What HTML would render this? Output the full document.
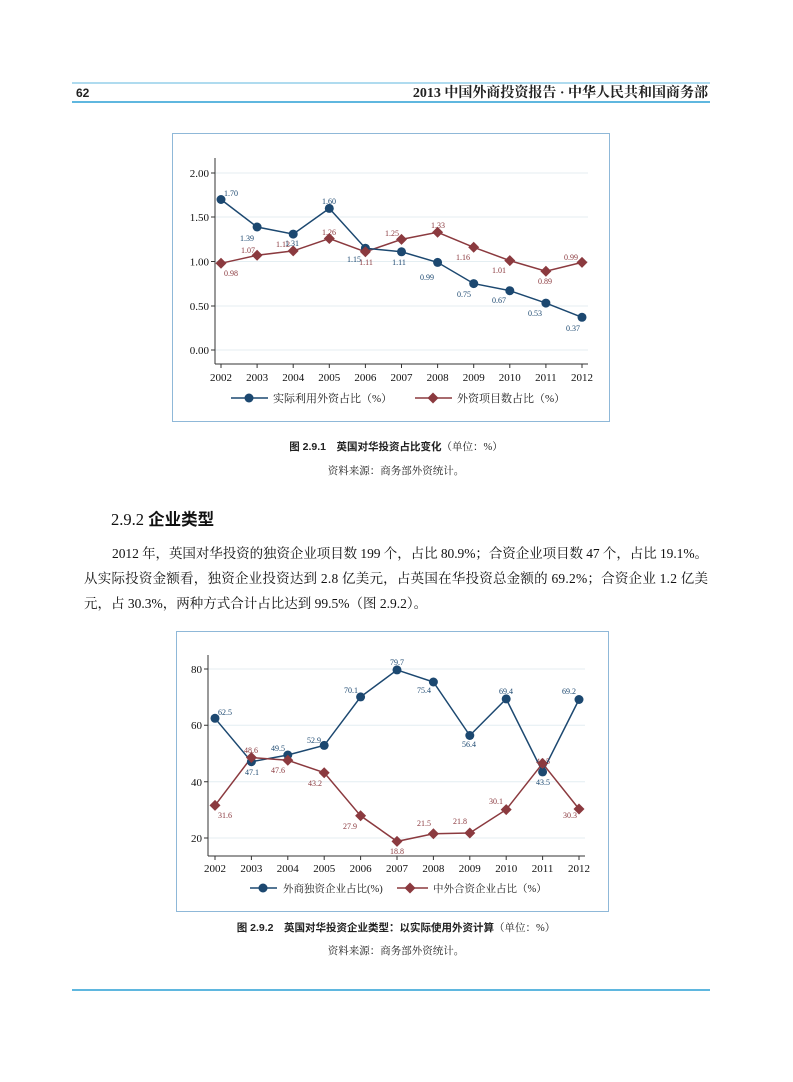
<!DOCTYPE html>
<html><head><meta charset="utf-8"><style>
body{margin:0;background:#fff;}
svg text{font-family:"Liberation Serif","Noto Serif CJK SC",serif;}
.s{font-family:"Liberation Sans","Noto Sans CJK SC",sans-serif;}
</style></head><body>
<svg width="793" height="1077" viewBox="0 0 793 1077" xmlns="http://www.w3.org/2000/svg">
<line x1="72" y1="83" x2="710" y2="83" stroke="#5fb7df" stroke-width="1"/>
<line x1="72" y1="102" x2="710" y2="102" stroke="#5fb7df" stroke-width="2"/>
<text x="76" y="97" font-size="12" font-weight="bold" class="s" fill="#222">62</text>
<text x="708" y="97" font-size="14" font-weight="bold" text-anchor="end" fill="#222" font-family="Liberation Serif,Noto Sans CJK SC,sans-serif">2013 中国外商投资报告 · 中华人民共和国商务部</text>

<!-- Chart 1 -->
<rect x="172.5" y="133.5" width="437" height="288" fill="#fff" stroke="#8fb8d8"/>
<g stroke="#e4eef2" stroke-width="1">
<line x1="215" y1="173" x2="588" y2="173"/><line x1="215" y1="217" x2="588" y2="217"/><line x1="215" y1="261.5" x2="588" y2="261.5"/><line x1="215" y1="306" x2="588" y2="306"/><line x1="215" y1="350" x2="588" y2="350"/>
</g>
<g stroke="#333" stroke-width="1" fill="none">
<line x1="215" y1="158" x2="215" y2="364"/><line x1="215" y1="364" x2="588" y2="364"/>
<path d="M211 173h4M211 217h4M211 261.5h4M211 306h4M211 350h4"/>
<path d="M221 364v4M257.1 364v4M293.2 364v4M329.3 364v4M365.4 364v4M401.5 364v4M437.6 364v4M473.7 364v4M509.8 364v4M545.9 364v4M582 364v4"/>
</g>
<g font-size="11" fill="#111" text-anchor="end">
<text x="209" y="177">2.00</text><text x="209" y="221">1.50</text><text x="209" y="265.5">1.00</text><text x="209" y="310">0.50</text><text x="209" y="354">0.00</text>
</g>
<g font-size="11" fill="#111" text-anchor="middle">
<text x="221" y="381">2002</text><text x="257.1" y="381">2003</text><text x="293.2" y="381">2004</text><text x="329.3" y="381">2005</text><text x="365.4" y="381">2006</text><text x="401.5" y="381">2007</text><text x="437.6" y="381">2008</text><text x="473.7" y="381">2009</text><text x="509.8" y="381">2010</text><text x="545.9" y="381">2011</text><text x="582" y="381">2012</text>
</g>
<polyline fill="none" stroke="#8b3a3f" stroke-width="1.5" points="221,263.3 257.1,255.3 293.2,250.9 329.3,238.5 365.4,251.8 401.5,239.4 437.6,232.3 473.7,247.3 509.8,260.6 545.9,271.2 582,262.4"/>
<polyline fill="none" stroke="#1c4870" stroke-width="1.5" points="221,199.5 257.1,227 293.2,234.1 329.3,208.4 365.4,248.2 401.5,251.8 437.6,262.4 473.7,283.6 509.8,290.7 545.9,303.1 582,317.3"/>
<g fill="#1c4870">
<circle cx="221" cy="199.5" r="4.5"/><circle cx="257.1" cy="227" r="4.5"/><circle cx="293.2" cy="234.1" r="4.5"/><circle cx="329.3" cy="208.4" r="4.5"/><circle cx="365.4" cy="248.2" r="4.5"/><circle cx="401.5" cy="251.8" r="4.5"/><circle cx="437.6" cy="262.4" r="4.5"/><circle cx="473.7" cy="283.6" r="4.5"/><circle cx="509.8" cy="290.7" r="4.5"/><circle cx="545.9" cy="303.1" r="4.5"/><circle cx="582" cy="317.3" r="4.5"/>
</g>
<g fill="#8b3a3f">
<path d="M221 257.8l5.5 5.5-5.5 5.5-5.5-5.5z"/><path d="M257.1 249.8l5.5 5.5-5.5 5.5-5.5-5.5z"/><path d="M293.2 245.4l5.5 5.5-5.5 5.5-5.5-5.5z"/><path d="M329.3 233l5.5 5.5-5.5 5.5-5.5-5.5z"/><path d="M365.4 246.3l5.5 5.5-5.5 5.5-5.5-5.5z"/><path d="M401.5 233.9l5.5 5.5-5.5 5.5-5.5-5.5z"/><path d="M437.6 226.8l5.5 5.5-5.5 5.5-5.5-5.5z"/><path d="M473.7 241.8l5.5 5.5-5.5 5.5-5.5-5.5z"/><path d="M509.8 255.1l5.5 5.5-5.5 5.5-5.5-5.5z"/><path d="M545.9 265.7l5.5 5.5-5.5 5.5-5.5-5.5z"/><path d="M582 256.9l5.5 5.5-5.5 5.5-5.5-5.5z"/>
</g>
<g font-size="8" fill="#1c4870" text-anchor="middle">
<text x="231" y="196">1.70</text><text x="247" y="241">1.39</text><text x="292" y="246">1.31</text><text x="329" y="204">1.60</text><text x="354" y="262">1.15</text><text x="399" y="265">1.11</text><text x="427" y="280">0.99</text><text x="464" y="297">0.75</text><text x="499" y="303">0.67</text><text x="535" y="316">0.53</text><text x="573" y="331">0.37</text>
</g>
<g font-size="8" fill="#8b3a3f" text-anchor="middle">
<text x="231" y="276">0.98</text><text x="248" y="253">1.07</text><text x="283" y="247">1.12</text><text x="329" y="235">1.26</text><text x="366" y="265">1.11</text><text x="392" y="236">1.25</text><text x="438" y="228">1.33</text><text x="463" y="260">1.16</text><text x="499" y="273">1.01</text><text x="545" y="284">0.89</text><text x="571" y="260">0.99</text>
</g>
<line x1="231" y1="398" x2="268" y2="398" stroke="#1c4870" stroke-width="1.5"/><circle cx="249" cy="398" r="4.5" fill="#1c4870"/>
<text x="273" y="402" font-size="11" fill="#222">实际利用外资占比（%）</text>
<line x1="415" y1="398" x2="452" y2="398" stroke="#8b3a3f" stroke-width="1.5"/><path d="M433 392.5l5.5 5.5-5.5 5.5-5.5-5.5z" fill="#8b3a3f"/>
<text x="457" y="402" font-size="11" fill="#222">外资项目数占比（%）</text>

<text x="396" y="450" font-size="10.5" text-anchor="middle" fill="#222"><tspan font-weight="bold" class="s">图 2.9.1　英国对华投资占比变化</tspan>（单位：%）</text>
<text x="396" y="474" font-size="10.5" text-anchor="middle" fill="#222">资料来源：商务部外资统计。</text>

<text x="111" y="525" font-size="16.5" fill="#111"><tspan>2.9.2 </tspan><tspan class="s" font-weight="bold">企业类型</tspan></text>
<text x="112" y="558" font-size="13.5" fill="#111" textLength="596">2012 年，英国对华投资的独资企业项目数 199 个，占比 80.9%；合资企业项目数 47 个，占比 19.1%。</text>
<text x="84" y="583" font-size="13.5" fill="#111" textLength="624">从实际投资金额看，独资企业投资达到 2.8 亿美元，占英国在华投资总金额的 69.2%；合资企业 1.2 亿美</text>
<text x="84" y="608" font-size="13.5" fill="#111">元，占 30.3%，两种方式合计占比达到 99.5%（图 2.9.2）。</text>

<!-- Chart 2 -->
<rect x="176.5" y="631.5" width="432" height="280" fill="#fff" stroke="#8fb8d8"/>
<g stroke="#e4eef2" stroke-width="1">
<line x1="208" y1="669" x2="585" y2="669"/><line x1="208" y1="725.3" x2="585" y2="725.3"/><line x1="208" y1="781.7" x2="585" y2="781.7"/><line x1="208" y1="838" x2="585" y2="838"/>
</g>
<g stroke="#333" stroke-width="1" fill="none">
<line x1="208" y1="655" x2="208" y2="856"/><line x1="208" y1="856" x2="585" y2="856"/>
<path d="M204 669h4M204 725.3h4M204 781.7h4M204 838h4"/>
<path d="M215 856v4M251.4 856v4M287.8 856v4M324.2 856v4M360.6 856v4M397 856v4M433.4 856v4M469.8 856v4M506.2 856v4M542.6 856v4M579 856v4"/>
</g>
<g font-size="11" fill="#111" text-anchor="end">
<text x="202" y="673">80</text><text x="202" y="729">60</text><text x="202" y="786">40</text><text x="202" y="842">20</text>
</g>
<g font-size="11" fill="#111" text-anchor="middle">
<text x="215" y="872">2002</text><text x="251.4" y="872">2003</text><text x="287.8" y="872">2004</text><text x="324.2" y="872">2005</text><text x="360.6" y="872">2006</text><text x="397" y="872">2007</text><text x="433.4" y="872">2008</text><text x="469.8" y="872">2009</text><text x="506.2" y="872">2010</text><text x="542.6" y="872">2011</text><text x="579" y="872">2012</text>
</g>
<polyline fill="none" stroke="#1c4870" stroke-width="1.5" points="215,718.3 251.4,761.7 287.8,755 324.2,745.4 360.6,696.9 397,669.9 433.4,682 469.8,735.5 506.2,698.9 542.6,771.9 579,699.5"/>
<polyline fill="none" stroke="#8b3a3f" stroke-width="1.5" points="215,805.4 251.4,757.5 287.8,760.3 324.2,772.7 360.6,815.8 397,841.4 433.4,833.8 469.8,833 506.2,809.6 542.6,763.4 579,809"/>
<g fill="#1c4870">
<circle cx="215" cy="718.3" r="4.5"/><circle cx="251.4" cy="761.7" r="4.5"/><circle cx="287.8" cy="755" r="4.5"/><circle cx="324.2" cy="745.4" r="4.5"/><circle cx="360.6" cy="696.9" r="4.5"/><circle cx="397" cy="669.9" r="4.5"/><circle cx="433.4" cy="682" r="4.5"/><circle cx="469.8" cy="735.5" r="4.5"/><circle cx="506.2" cy="698.9" r="4.5"/><circle cx="542.6" cy="771.9" r="4.5"/><circle cx="579" cy="699.5" r="4.5"/>
</g>
<g fill="#8b3a3f">
<path d="M215 799.9l5.5 5.5-5.5 5.5-5.5-5.5z"/><path d="M251.4 752l5.5 5.5-5.5 5.5-5.5-5.5z"/><path d="M287.8 754.8l5.5 5.5-5.5 5.5-5.5-5.5z"/><path d="M324.2 767.2l5.5 5.5-5.5 5.5-5.5-5.5z"/><path d="M360.6 810.3l5.5 5.5-5.5 5.5-5.5-5.5z"/><path d="M397 835.9l5.5 5.5-5.5 5.5-5.5-5.5z"/><path d="M433.4 828.3l5.5 5.5-5.5 5.5-5.5-5.5z"/><path d="M469.8 827.5l5.5 5.5-5.5 5.5-5.5-5.5z"/><path d="M506.2 804.1l5.5 5.5-5.5 5.5-5.5-5.5z"/><path d="M542.6 757.9l5.5 5.5-5.5 5.5-5.5-5.5z"/><path d="M579 803.5l5.5 5.5-5.5 5.5-5.5-5.5z"/>
</g>
<g font-size="8" fill="#1c4870" text-anchor="middle">
<text x="225" y="715">62.5</text><text x="252" y="775">47.1</text><text x="278" y="751">49.5</text><text x="314" y="743">52.9</text><text x="351" y="693">70.1</text><text x="397" y="665">79.7</text><text x="424" y="693">75.4</text><text x="469" y="747">56.4</text><text x="506" y="694">69.4</text><text x="543" y="785">43.5</text><text x="569" y="694">69.2</text>
</g>
<g font-size="8" fill="#8b3a3f" text-anchor="middle">
<text x="225" y="818">31.6</text><text x="251" y="753">48.6</text><text x="278" y="773">47.6</text><text x="315" y="786">43.2</text><text x="350" y="829">27.9</text><text x="397" y="854">18.8</text><text x="424" y="826">21.5</text><text x="460" y="824">21.8</text><text x="496" y="804">30.1</text><text x="543" y="764">46.5</text><text x="570" y="818">30.3</text>
</g>
<line x1="250" y1="888" x2="277" y2="888" stroke="#1c4870" stroke-width="1.5"/><circle cx="263" cy="888" r="4.5" fill="#1c4870"/>
<text x="283" y="892" font-size="10.5" fill="#222">外商独资企业占比(%)</text>
<line x1="397" y1="888" x2="428" y2="888" stroke="#8b3a3f" stroke-width="1.5"/><path d="M410 882.5l5.5 5.5-5.5 5.5-5.5-5.5z" fill="#8b3a3f"/>
<text x="433" y="892" font-size="10.5" fill="#222">中外合资企业占比（%）</text>

<text x="396" y="931" font-size="10.5" text-anchor="middle" fill="#222"><tspan font-weight="bold" class="s">图 2.9.2　英国对华投资企业类型：以实际使用外资计算</tspan>（单位：%）</text>
<text x="396" y="954" font-size="10.5" text-anchor="middle" fill="#222">资料来源：商务部外资统计。</text>

<line x1="72" y1="990" x2="710" y2="990" stroke="#5fb7df" stroke-width="2"/>
</svg>
</body></html>
